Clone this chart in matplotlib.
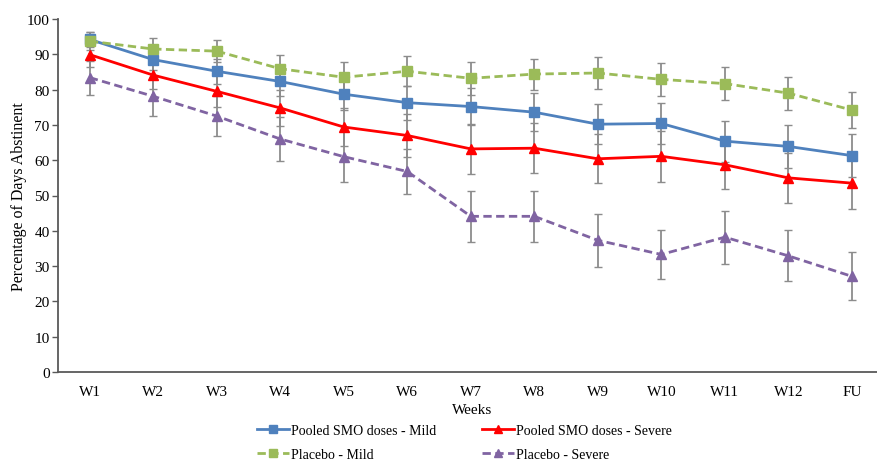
import matplotlib
matplotlib.use("Agg")
import matplotlib.pyplot as plt
from matplotlib.lines import Line2D

weeks = ["W1", "W2", "W3", "W4", "W5", "W6", "W7", "W8", "W9", "W10", "W11", "W12", "FU"]

smo_mild = [94.2, 88.5, 85.2, 82.3, 78.7, 76.3, 75.2, 73.6, 70.2, 70.4, 65.4, 63.9, 61.3]
smo_mild_err = [2.0, 3.0, 3.5, 4.0, 4.5, 4.8, 5.2, 5.4, 5.6, 5.8, 5.8, 6.1, 6.0]

smo_severe = [89.9, 84.1, 79.5, 74.8, 69.4, 67.0, 63.2, 63.4, 60.4, 61.1, 58.7, 55.0, 53.5]
smo_severe_err = [3.5, 4.0, 4.5, 5.0, 5.5, 6.0, 7.1, 7.0, 7.0, 7.2, 7.0, 7.0, 7.4]

pla_mild = [93.7, 91.5, 90.9, 85.9, 83.5, 85.2, 83.2, 84.4, 84.7, 82.9, 81.7, 79.0, 74.2]
pla_mild_err = [2.6, 3.0, 3.1, 3.8, 4.2, 4.2, 4.6, 4.4, 4.5, 4.7, 4.6, 4.7, 5.0]

pla_severe = [83.4, 78.1, 72.5, 66.0, 61.0, 56.8, 44.1, 44.1, 37.3, 33.3, 38.2, 32.9, 27.1]
pla_severe_err = [4.8, 5.5, 5.7, 6.2, 7.2, 6.5, 7.2, 7.2, 7.6, 7.0, 7.5, 7.2, 6.8]

labels = ["Pooled SMO doses - Mild", "Pooled SMO doses - Severe",
          "Placebo - Mild", "Placebo - Severe"]

plt.rcParams['font.family'] = ['Liberation Serif', 'DejaVu Serif']

fig = plt.figure(figsize=(8.78, 4.64), dpi=100)
ax = fig.add_axes([58/878, 1-373/464, 1-58/878 + 0.01, (373-20)/464])

x = list(range(len(weeks)))
series = [
    (smo_mild, smo_mild_err, '#4F81BD', '-', 's', labels[0]),
    (smo_severe, smo_severe_err, '#FF0000', '-', '^', labels[1]),
    (pla_mild, pla_mild_err, '#9BBB59', (0, (3, 1.6)), 's', labels[2]),
    (pla_severe, pla_severe_err, '#8064A2', (0, (3, 1.6)), '^', labels[3]),
]
handles = {}
for vals, err, col, ls, mk, lab in series:
    ax.errorbar(x, vals, yerr=err, fmt='none', ecolor='#8C8C8C', elinewidth=1.3,
                capsize=3, capthick=1.0, zorder=2)
    ax.plot(x, vals, color=col, linestyle=ls, linewidth=2, zorder=3)
    ax.plot(x, vals, color=col, linestyle='none', marker=mk, markersize=7.8,
            markeredgecolor=col, zorder=4)
    handles[lab] = Line2D([], [], color=col, linestyle=ls, linewidth=2,
                          marker=mk, markersize=5.5)

ax.set_xlim(-0.5, 12.55)
ax.set_ylim(0, 100)
ax.set_yticks(range(0, 101, 10))
ax.set_xticks(x)
ax.set_xticklabels(weeks)
for s in ['top', 'right']:
    ax.spines[s].set_visible(False)
for s in ['left', 'bottom']:
    ax.spines[s].set_color('#595959')
    ax.spines[s].set_linewidth(1.3)
ax.tick_params(axis='y', length=4, width=1, color='#595959', labelsize=11, pad=2)
ax.tick_params(axis='x', length=0, labelsize=11, pad=9)
ax.set_ylabel("Percentage of Days Abstinent", fontsize=11.5, labelpad=0)
ax.set_xlabel("Weeks", fontsize=11, labelpad=4)

order = [labels[0], labels[2], labels[1], labels[3]]
fig.legend([handles[l] for l in order], order, ncol=2, frameon=False,
           loc='upper left', bbox_to_anchor=(257/878, 1-425/464),
           fontsize=10, handlelength=2.3, handletextpad=0.15,
           columnspacing=3.3, labelspacing=0.8, borderaxespad=0, borderpad=0)

fig.savefig("out.png", dpi=100)
